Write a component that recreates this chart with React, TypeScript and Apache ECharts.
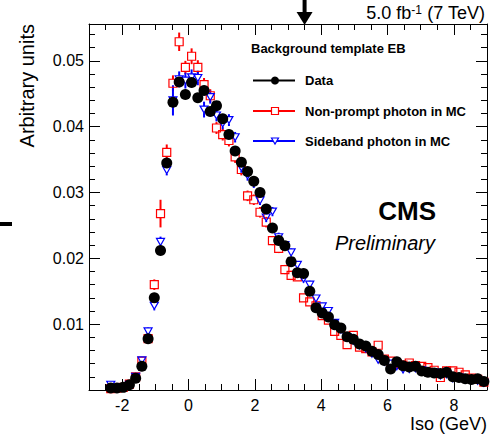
import React, { useEffect, useRef } from "react";
import * as echarts from "echarts";

const FONT = "'Liberation Sans', Arial, Helvetica, sans-serif";

// Bin centres of the Iso histogram (GeV)
const binCenters = [
  -2.34375, -2.15625, -1.96875, -1.78125, -1.59375, -1.40625, -1.21875, -1.03125,
  -0.84375, -0.65625, -0.46875, -0.28125, -0.09375, 0.09375, 0.28125, 0.46875,
  0.65625, 0.84375, 1.03125, 1.21875, 1.40625, 1.59375, 1.78125, 1.96875,
  2.15625, 2.34375, 2.53125, 2.71875, 2.90625, 3.09375, 3.28125, 3.46875,
  3.65625, 3.84375, 4.03125, 4.21875, 4.40625, 4.59375, 4.78125, 4.96875,
  5.15625, 5.34375, 5.53125, 5.71875, 5.90625, 6.09375, 6.28125, 6.46875,
  6.65625, 6.84375, 7.03125, 7.21875, 7.40625, 7.59375, 7.78125, 7.96875,
  8.15625, 8.34375, 8.53125, 8.71875, 8.90625,
];

const dataValues = [
  0.0003, 0.0003, 0.0004, 0.0008, 0.0018, 0.0036, 0.0078, 0.0140,
  0.0212, 0.0345, 0.0437, 0.0468, 0.0449, 0.0467, 0.0444, 0.0455,
  0.0423, 0.0432, 0.0412, 0.0388, 0.0363, 0.0346, 0.0332, 0.0317,
  0.0300, 0.0275, 0.0246, 0.0227, 0.0219, 0.0195, 0.0178, 0.0177,
  0.0150, 0.0125, 0.0117, 0.0111, 0.0099, 0.0094, 0.0081, 0.0077,
  0.0070, 0.0067, 0.0059, 0.0054, 0.0045, 0.0032, 0.0043, 0.0037,
  0.0035, 0.0036, 0.0029, 0.0027, 0.0026, 0.0025, 0.0027, 0.0020,
  0.0019, 0.0017, 0.0016, 0.0017, 0.0013,
];

const nonPromptValues = [
  0.0002, 0.0003, 0.0004, 0.0009, 0.0020, 0.0044, 0.0078, 0.0160,
  0.0268, 0.0361, 0.0466, 0.0529, 0.0490, 0.0507, 0.0490, 0.0464,
  0.0447, 0.0398, 0.0388, 0.0379, 0.0354, 0.0335, 0.0295, 0.0289,
  0.0270, 0.0255, 0.0227, 0.0215, 0.0183, 0.0174, 0.0172, 0.0140,
  0.0134, 0.0128, 0.0113, 0.0106, 0.0089, 0.0083, 0.0069, 0.0083,
  0.0065, 0.0063, 0.0058, 0.0068, 0.0047, 0.0044, 0.0040, 0.0038,
  0.0041, 0.0037, 0.0036, 0.0034, 0.0030, 0.0019, 0.0029, 0.0029,
  0.0027, 0.0023, 0.0018, 0.0016, 0.0012,
];

const nonPromptErrors = [
  0.0002, 0.0002, 0.0002, 0.0003, 0.0004, 0.0005, 0.0007, 0.0008,
  0.0021, 0.0012, 0.0012, 0.0014, 0.0010, 0.0012, 0.0011, 0.0010,
  0.0010, 0.0009, 0.0009, 0.0009, 0.0009, 0.0009, 0.0008, 0.0008,
  0.0008, 0.0008, 0.0007, 0.0007, 0.0007, 0.0007, 0.0006, 0.0006,
  0.0006, 0.0006, 0.0006, 0.0006, 0.0006, 0.0006, 0.0005, 0.0005,
  0.0005, 0.0005, 0.0005, 0.0005, 0.0005, 0.0005, 0.0005, 0.0005,
  0.0004, 0.0004, 0.0004, 0.0004, 0.0004, 0.0004, 0.0004, 0.0004,
  0.0004, 0.0004, 0.0004, 0.0004, 0.0004,
];

const sidebandValues = [
  0.0008, 0.0003, 0.0004, 0.0008, 0.0020, 0.0045, 0.0089, 0.0128,
  0.0225, 0.0334, 0.0440, 0.0472, 0.0470, 0.0475, 0.0474, 0.0426,
  0.0445, 0.0417, 0.0405, 0.0410, 0.0384, 0.0338, 0.0326, 0.0315,
  0.0288, 0.0262, 0.0271, 0.0232, 0.0220, 0.0209, 0.0190, 0.0169,
  0.0160, 0.0139, 0.0127, 0.0120, 0.0102, 0.0092, 0.0080, 0.0075,
  0.0068, 0.0063, 0.0055, 0.0046, 0.0043, 0.0040, 0.0036, 0.0031,
  0.0032, 0.0033, 0.0030, 0.0027, 0.0027, 0.0022, 0.0024, 0.0018,
  0.0019, 0.0016, 0.0016, 0.0014, 0.0011,
];

const sidebandErrors = [
  0.0002, 0.0002, 0.0002, 0.0003, 0.0004, 0.0005, 0.0006, 0.0007,
  0.0008, 0.0008, 0.0023, 0.0012, 0.0012, 0.0012, 0.0011, 0.0012,
  0.0010, 0.0009, 0.0009, 0.0009, 0.0008, 0.0008, 0.0008, 0.0008,
  0.0007, 0.0007, 0.0007, 0.0007, 0.0006, 0.0006, 0.0006, 0.0006,
  0.0006, 0.0005, 0.0005, 0.0005, 0.0005, 0.0005, 0.0005, 0.0005,
  0.0004, 0.0004, 0.0004, 0.0004, 0.0004, 0.0004, 0.0004, 0.0004,
  0.0004, 0.0004, 0.0004, 0.0003, 0.0003, 0.0003, 0.0003, 0.0003,
  0.0003, 0.0003, 0.0003, 0.0003, 0.0003,
];

const xMajorTicks = [-2, 0, 2, 4, 6, 8];
const xMinorTicks = [-2.5, -1.5, -1, -0.5, 0.5, 1, 1.5, 2.5, 3, 3.5, 4.5, 5, 5.5, 6.5, 7, 7.5, 8.5];
const yMajorTicks = [0.01, 0.02, 0.03, 0.04, 0.05];
const yMinorTicks = [
  0.002, 0.004, 0.006, 0.008, 0.012, 0.014, 0.016, 0.018, 0.022, 0.024, 0.026, 0.028,
  0.032, 0.034, 0.036, 0.038, 0.042, 0.044, 0.046, 0.048, 0.052, 0.054,
];

const X_MIN = -3;
const X_MAX = 9;
const Y_MIN = 0;
const Y_MAX = 0.0556;
const ARROW_X = 3.5;

const legendTitle = "Background template EB";
const legendLabels = ["Data", "Non-prompt photon in MC", "Sideband photon in MC"];

function errorSeries(values: number[], errors: number[], color: string, gap: number) {
  return {
    type: "custom",
    xAxisIndex: 0,
    yAxisIndex: 0,
    silent: true,
    clip: true,
    z: 2,
    encode: { x: 0, y: 1 },
    data: binCenters.map((x, i) => [x, values[i], errors[i]]),
    renderItem: (params: any, api: any) => {
      const x = api.value(0);
      const y = api.value(1);
      const e = api.value(2);
      const c = api.coord([x, y]);
      const lo = api.coord([x, y - e]);
      const hi = api.coord([x, y + e]);
      const children: any[] = [];
      if (c[1] - hi[1] > gap) {
        children.push({
          type: "line",
          shape: { x1: c[0], y1: c[1] - gap, x2: hi[0], y2: hi[1] },
          style: { stroke: color, lineWidth: 2 },
        });
      }
      if (lo[1] - c[1] > gap) {
        children.push({
          type: "line",
          shape: { x1: c[0], y1: c[1] + gap, x2: lo[0], y2: lo[1] },
          style: { stroke: color, lineWidth: 2 },
        });
      }
      return { type: "group", children };
    },
  };
}

function axisX(grid: number, position: string, ticks: number[], len: number, labels: boolean, line: boolean) {
  return {
    type: "value",
    gridIndex: grid,
    position,
    min: X_MIN,
    max: X_MAX,
    axisLine: { show: line, onZero: false, lineStyle: { color: "#000", width: 1 } },
    axisTick: { show: true, inside: true, length: len, customValues: ticks, lineStyle: { color: "#000", width: 1 } },
    axisLabel: {
      show: labels,
      customValues: ticks,
      color: "#000",
      fontSize: 16,
      fontFamily: FONT,
      margin: 7,
    },
    splitLine: { show: false },
  };
}

function axisY(grid: number, position: string, ticks: number[], len: number, labels: boolean, line: boolean) {
  return {
    type: "value",
    gridIndex: grid,
    position,
    min: Y_MIN,
    max: Y_MAX,
    axisLine: { show: line, onZero: false, lineStyle: { color: "#000", width: 1 } },
    axisTick: { show: true, inside: true, length: len, customValues: ticks, lineStyle: { color: "#000", width: 1 } },
    axisLabel: {
      show: labels,
      customValues: ticks,
      color: "#000",
      fontSize: 16,
      fontFamily: FONT,
      margin: 5,
      formatter: (v: number) => v.toFixed(2),
    },
    splitLine: { show: false },
  };
}

export default function App() {
  const ref = useRef<HTMLDivElement>(null);

  useEffect(() => {
    const chart = echarts.init(ref.current!, undefined, { renderer: "svg" });
    const gridRect = { left: 89, right: 12, top: 24, bottom: 46 };

    const option: any = {
      animation: false,
      backgroundColor: "#fff",
      grid: [
        { ...gridRect, show: false },
        { ...gridRect, show: false },
      ],
      xAxis: [
        axisX(0, "bottom", xMajorTicks, 11, true, true),
        axisX(0, "top", xMajorTicks, 11, false, true),
        axisX(1, "bottom", xMinorTicks, 6, false, false),
        axisX(1, "top", xMinorTicks, 6, false, false),
      ],
      yAxis: [
        axisY(0, "left", yMajorTicks, 11, true, true),
        axisY(0, "right", yMajorTicks, 11, false, true),
        axisY(1, "left", yMinorTicks, 6, false, false),
        axisY(1, "right", yMinorTicks, 6, false, false),
      ],
      series: [
        errorSeries(nonPromptValues, nonPromptErrors, "#ff0000", 4),
        errorSeries(sidebandValues, sidebandErrors, "#0000ff", 3.5),
        {
          type: "scatter",
          xAxisIndex: 0,
          yAxisIndex: 0,
          z: 3,
          symbol: "rect",
          symbolSize: 8,
          itemStyle: { color: "rgba(0,0,0,0)", borderColor: "#ff0000", borderWidth: 1.2, opacity: 1 },
          data: binCenters.map((x, i) => [x, nonPromptValues[i]]),
        },
        {
          type: "scatter",
          xAxisIndex: 0,
          yAxisIndex: 0,
          z: 4,
          symbol: "triangle",
          symbolRotate: 180,
          symbolSize: [8, 7],
          itemStyle: { color: "rgba(0,0,0,0)", borderColor: "#0000ff", borderWidth: 1.2, opacity: 1 },
          data: binCenters.map((x, i) => [x, sidebandValues[i]]),
        },
        {
          type: "scatter",
          xAxisIndex: 0,
          yAxisIndex: 0,
          z: 5,
          symbol: "circle",
          symbolSize: 11,
          itemStyle: { color: "#000", opacity: 1 },
          data: binCenters.map((x, i) => [x, dataValues[i]]),
        },
      ],
    };
    chart.setOption(option);

    const ax = chart.convertToPixel({ xAxisIndex: 0 }, ARROW_X) as number;
    const legX = 253;
    const legRows = [80.5, 111, 141];

    chart.setOption({
      graphic: [
        // luminosity label
        {
          type: "text",
          x: 485,
          y: 13,
          style: {
            text: "{a|5.0 fb}{s|-1}{a| (7 TeV)}",
            align: "right",
            verticalAlign: "middle",
            rich: {
              a: { fontSize: 18, fontFamily: FONT, fill: "#000" },
              s: { fontSize: 12, fontFamily: FONT, fill: "#000", verticalAlign: "top" },
            },
          },
        },
        // arrow
        { type: "rect", shape: { x: ax - 2, y: 0, width: 4, height: 13 }, style: { fill: "#000" } },
        { type: "polygon", shape: { points: [[ax - 8, 12], [ax + 8, 12], [ax, 25]] }, style: { fill: "#000" } },
        // stray mark at left
        { type: "rect", shape: { x: 0, y: 222, width: 12, height: 4 }, style: { fill: "#000" } },
        // axis titles
        {
          type: "text",
          x: 27,
          y: 24,
          rotation: Math.PI / 2,
          style: { text: "Arbitrary units", fontSize: 20, fontFamily: FONT, fill: "#000", align: "right", verticalAlign: "middle" },
        },
        {
          type: "text",
          x: 487,
          y: 424,
          style: { text: "Iso (GeV)", fontSize: 18, fontFamily: FONT, fill: "#000", align: "right", verticalAlign: "middle" },
        },
        // legend
        {
          type: "text",
          x: 251,
          y: 48,
          style: { text: legendTitle, fontSize: 13, fontWeight: "bold", fontFamily: FONT, fill: "#000", align: "left", verticalAlign: "middle" },
        },
        { type: "line", shape: { x1: legX, y1: legRows[0], x2: legX + 42, y2: legRows[0] }, style: { stroke: "#000", lineWidth: 2 } },
        { type: "circle", shape: { cx: legX + 22, cy: legRows[0], r: 4 }, style: { fill: "#000" } },
        { type: "line", shape: { x1: legX, y1: legRows[1], x2: legX + 42, y2: legRows[1] }, style: { stroke: "#ff0000", lineWidth: 2 } },
        { type: "rect", shape: { x: legX + 18.5, y: legRows[1] - 3.5, width: 7, height: 7 }, style: { fill: "#fff", stroke: "#ff0000", lineWidth: 1.2 } },
        { type: "line", shape: { x1: legX, y1: legRows[2], x2: legX + 42, y2: legRows[2] }, style: { stroke: "#0000ff", lineWidth: 2 } },
        {
          type: "polygon",
          shape: { points: [[legX + 18.5, legRows[2] - 3], [legX + 25.5, legRows[2] - 3], [legX + 22, legRows[2] + 3]] },
          style: { fill: "#fff", stroke: "#0000ff", lineWidth: 1.2 },
        },
        ...legendLabels.map((t, i) => ({
          type: "text",
          x: 305,
          y: legRows[i],
          style: { text: t, fontSize: 13, fontWeight: "bold", fontFamily: FONT, fill: "#000", align: "left", verticalAlign: "middle" },
        })),
        // CMS label
        {
          type: "text",
          x: 436,
          y: 211,
          style: { text: "CMS", fontSize: 26, fontWeight: "bold", fontFamily: FONT, fill: "#000", align: "right", verticalAlign: "middle" },
        },
        {
          type: "text",
          x: 435,
          y: 243,
          style: { text: "Preliminary", fontSize: 20, fontStyle: "italic", fontFamily: FONT, fill: "#000", align: "right", verticalAlign: "middle" },
        },
      ],
    });

    return () => chart.dispose();
  }, []);

  return <div ref={ref} style={{ position: "absolute", left: 0, top: 0, width: 499, height: 436 }} />;
}
